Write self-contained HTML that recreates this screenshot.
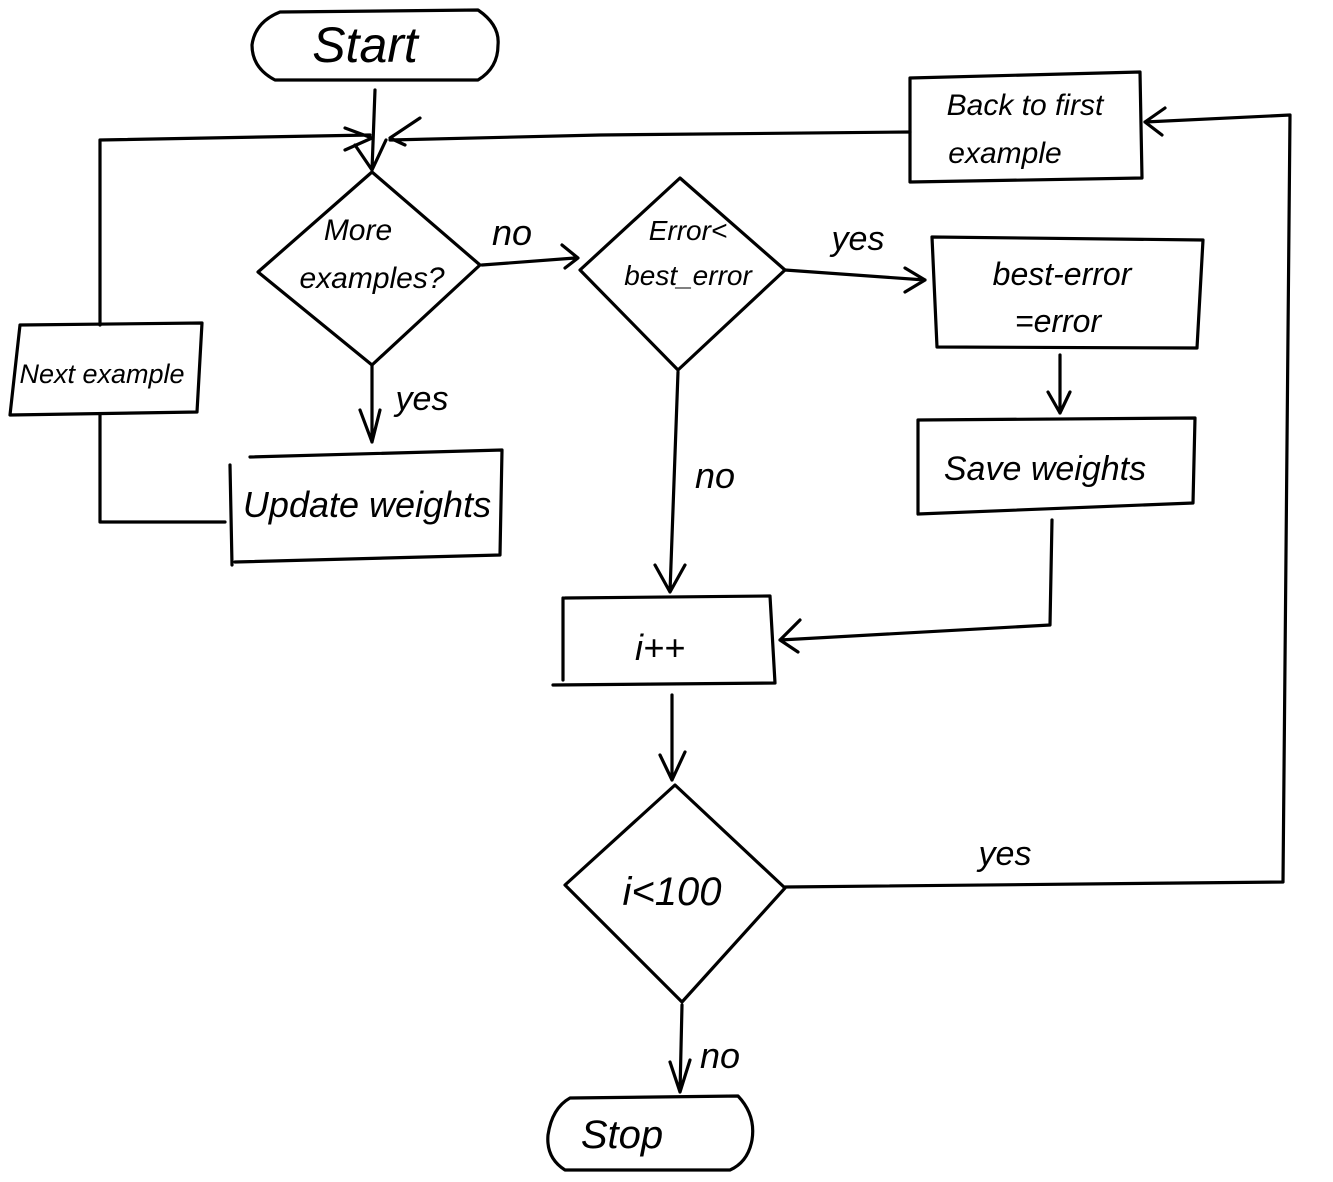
<!DOCTYPE html>
<html><head><meta charset="utf-8"><style>
html,body{margin:0;padding:0;background:#fff;}
svg{display:block;}
text{font-family:"Liberation Sans",sans-serif;fill:#000;}
</style></head><body>
<svg width="1333" height="1182" viewBox="0 0 1333 1182" xmlns="http://www.w3.org/2000/svg">
<g fill="none" stroke="#000" stroke-width="3.2" stroke-linecap="round" stroke-linejoin="round">
<!-- Start -->
<path d="M280 12 L478 10 Q500 25 498 45 Q498 68 478 80 L275 80 Q252 68 252 45 Q255 22 280 12 Z"/>
<path d="M375 90 L372 170 M355 145 L372 170 L386 140"/>
<path d="M100 325 L100 140 L370 135 M345 128 L372 138 L345 150"/>
<path d="M390 140 L600 135 L910 132 M420 118 L390 138 L405 145"/>
<!-- Next example box -->
<path d="M20 325 L202 323 L197 412 L10 415 Z"/>
<path d="M100 415 L100 522 L225 522"/>
<!-- Update weights -->
<path d="M250 457 L502 450 L500 555 L235 562"/>
<path d="M230 465 L232 565"/>
<!-- Diamond 1 -->
<path d="M372 172 L480 265 L372 365 L258 272 Z"/>
<path d="M372 365 L372 442 M360 410 L372 442 L380 410"/>
<path d="M482 265 L575 258 M562 245 L578 258 L565 268"/>
<!-- Diamond 2 -->
<path d="M680 178 L785 270 L678 370 L580 270 Z"/>
<path d="M785 270 L925 280 M905 268 L925 280 L905 292"/>
<path d="M932 237 L1203 240 L1197 348 L937 347 Z"/>
<path d="M1060 355 L1060 413 M1048 392 L1060 413 L1070 392"/>
<path d="M918 420 L1195 418 L1193 503 L918 514 Z"/>
<path d="M1052 520 L1050 625 L780 640 M800 620 L780 640 L798 652"/>
<path d="M678 372 L670 592 M655 565 L670 592 L685 565"/>
<!-- i++ -->
<path d="M565 598 L770 596 L775 683 L553 685"/>
<path d="M563 598 L563 680"/>
<path d="M672 695 L672 780 M660 755 L672 780 L685 752"/>
<!-- Diamond 3 -->
<path d="M675 785 L785 888 L682 1002 L565 885 Z"/>
<path d="M785 887 L1283 882 L1290 115 L1145 122 M1165 108 L1145 122 L1162 135"/>
<path d="M910 78 L1140 72 L1142 178 L910 182 Z"/>
<path d="M682 1005 L680 1092 M670 1062 L680 1092 L690 1060"/>
<!-- Stop -->
<path d="M570 1098 L738 1096 Q756 1115 752 1140 Q748 1162 730 1170 L565 1170 Q546 1158 548 1135 Q552 1108 570 1098 Z"/>
</g>
<text x="365" y="62" font-size="50" text-anchor="middle" font-style="italic">Start</text>
<text x="102" y="383" font-size="27" text-anchor="middle" font-style="italic">Next example</text>
<text x="367" y="517" font-size="36" text-anchor="middle" font-style="italic">Update weights</text>
<text x="358" y="240" font-size="30" text-anchor="middle" font-style="italic">More</text>
<text x="372" y="288" font-size="30" text-anchor="middle" font-style="italic">examples?</text>
<text x="512" y="245" font-size="36" font-style="italic" text-anchor="middle">no</text>
<text x="422" y="410" font-size="34" font-style="italic" text-anchor="middle">yes</text>
<text x="688" y="240" font-size="28" text-anchor="middle" font-style="italic">Error&lt;</text>
<text x="688" y="285" font-size="28" text-anchor="middle" font-style="italic">best_error</text>
<text x="858" y="250" font-size="34" font-style="italic" text-anchor="middle">yes</text>
<text x="1062" y="285" font-size="32" text-anchor="middle" font-style="italic">best-error</text>
<text x="1058" y="332" font-size="32" text-anchor="middle" font-style="italic">=error</text>
<text x="1045" y="480" font-size="34" text-anchor="middle" font-style="italic">Save weights</text>
<text x="715" y="488" font-size="36" font-style="italic" text-anchor="middle">no</text>
<text x="660" y="660" font-size="36" text-anchor="middle" font-style="italic">i++</text>
<text x="672" y="905" font-size="40" text-anchor="middle" font-style="italic">i&lt;100</text>
<text x="1005" y="865" font-size="34" font-style="italic" text-anchor="middle">yes</text>
<text x="1025" y="115" font-size="30" text-anchor="middle" font-style="italic">Back to first</text>
<text x="1005" y="163" font-size="30" text-anchor="middle" font-style="italic">example</text>
<text x="720" y="1068" font-size="36" font-style="italic" text-anchor="middle">no</text>
<text x="622" y="1148" font-size="40" text-anchor="middle" font-style="italic">Stop</text>
</svg>
</body></html>
